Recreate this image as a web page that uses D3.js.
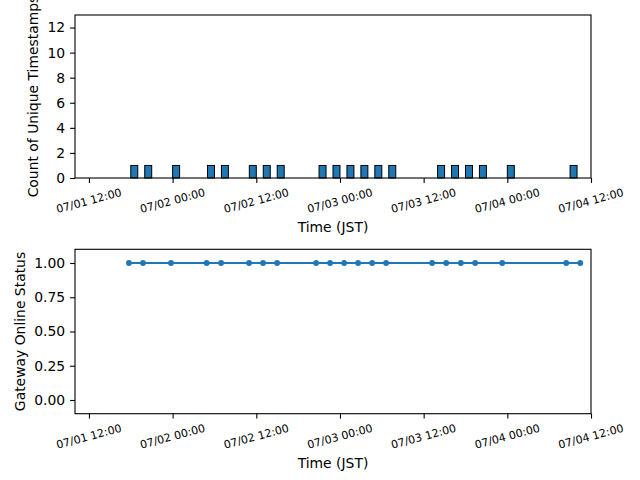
<!DOCTYPE html>
<html>
<head>
<meta charset="utf-8">
<script src="https://cdn.jsdelivr.net/npm/d3@7"></script>
<style>
  body { margin: 0; background: #fff; }
  text { font-family: "DejaVu Sans", sans-serif; fill: #000; }
</style>
</head>
<body>
<div id="chart"></div>
<script>
// hourly histogram of unique timestamps + online status line

const year = 2024;
const barHours = ["07-01 18:00", "07-01 20:00", "07-02 00:00", "07-02 05:00", "07-02 07:00",
  "07-02 11:00", "07-02 13:00", "07-02 15:00", "07-02 21:00", "07-02 23:00",
  "07-03 01:00", "07-03 03:00", "07-03 05:00", "07-03 07:00", "07-03 14:00",
  "07-03 16:00", "07-03 18:00", "07-03 20:00", "07-04 00:00", "07-04 09:00"];
const barCounts = [1, 1, 1, 1, 1, 1, 1, 1, 1, 1, 1, 1, 1, 1, 1, 1, 1, 1, 1, 1];

const statusTimes = ["07-01 17:44", "07-01 19:45", "07-01 23:46", "07-02 04:53", "07-02 06:57",
  "07-02 10:58", "07-02 12:58", "07-02 14:59", "07-02 20:35", "07-02 22:35",
  "07-03 00:36", "07-03 02:36", "07-03 04:37", "07-03 06:37", "07-03 13:13",
  "07-03 15:14", "07-03 17:20", "07-03 19:23", "07-03 23:16", "07-04 08:27",
  "07-04 10:28"];
const statusValues = [1, 1, 1, 1, 1, 1, 1, 1, 1, 1, 1, 1, 1, 1, 1, 1, 1, 1, 1, 1, 1];

const countTicks = [0, 2, 4, 6, 8, 10, 12];
const statusTicks = [0, 0.25, 0.5, 0.75, 1];

const parse = s => d3.utcParse("%Y-%m-%d %H:%M")(year + "-" + s);
const xStart = parse("07-01 10:00");
const xEnd = parse("07-04 12:00");
const binStart = parse("07-01 11:00");
const binEnd = parse("07-04 11:00");

const blue = "#1f77b4";
const W = 640, H = 480;
const left = 75, right = 591;

const svg = d3.select("#chart").append("svg")
  .attr("width", W)
  .attr("height", H);

const x = d3.scaleUtc().domain([xStart, xEnd]).range([left, right]);
const xTicks = d3.utcHour.every(12).range(parse("07-01 12:00"), d3.utcMinute.offset(xEnd, 1));
const fmt = d3.utcFormat("%m/%d %H:%M");

function drawXAxis(g, bottom) {
  const ax = g.append("g")
    .attr("transform", `translate(0, ${bottom})`)
    .call(d3.axisBottom(x).tickValues(xTicks).tickSize(4.9).tickFormat(""));
  ax.select(".domain").remove();
  ax.selectAll(".tick line").attr("stroke", "#000").attr("stroke-width", 1.1);
  g.selectAll(null)
    .data(xTicks)
    .enter()
    .append("text")
    .attr("transform", d => `translate(${x(d)}, ${bottom + 23}) rotate(-15)`)
    .attr("text-anchor", "middle")
    .attr("dominant-baseline", "central")
    .style("font-size", "11px")
    .text(d => fmt(d));
  g.append("text")
    .attr("x", (left + right) / 2)
    .attr("y", bottom + 54)
    .attr("text-anchor", "middle")
    .style("font-size", "13.9px")
    .text("Time (JST)");
}

function drawYAxis(g, y, ticks, f) {
  const ax = g.append("g")
    .attr("transform", `translate(${left}, 0)`)
    .call(d3.axisLeft(y).tickValues(ticks).tickSize(4.9).tickPadding(4.9).tickFormat(f));
  ax.select(".domain").remove();
  ax.selectAll(".tick line").attr("stroke", "#000").attr("stroke-width", 1.1);
  ax.selectAll(".tick text").style("font-size", "13.9px").attr("fill", "#000")
    .style("font-family", "DejaVu Sans");
}

function frame(g, top, bottom) {
  g.append("rect")
    .attr("x", left).attr("y", top)
    .attr("width", right - left).attr("height", bottom - top)
    .attr("fill", "none").attr("stroke", "#000").attr("stroke-width", 1.1);
}

// ---- top: histogram ----
const top1 = 15, bot1 = 178;
const y1 = d3.scaleLinear().domain([0, 13]).range([bot1, top1]);
const countMap = new Map(barHours.map((h, i) => [+parse(h), barCounts[i]]));
const bins = d3.utcHour.range(binStart, binEnd).map(t => ({ t, v: countMap.get(+t) || 0 }));

const g1 = svg.append("g");
g1.selectAll(".bar")
  .data(bins)
  .enter()
  .append("rect")
  .attr("class", "bar")
  .attr("x", d => x(d.t))
  .attr("y", d => y1(d.v))
  .attr("width", d => x(d3.utcHour.offset(d.t, 1)) - x(d.t))
  .attr("height", d => bot1 - y1(d.v))
  .attr("fill", blue)
  .attr("stroke", "#000")
  .attr("stroke-width", 1);
frame(g1, top1, bot1);
drawXAxis(g1, bot1);
drawYAxis(g1, y1, countTicks, d3.format("d"));
g1.append("text")
  .attr("transform", `translate(38, ${(top1 + bot1) / 2}) rotate(-90)`)
  .attr("text-anchor", "middle")
  .style("font-size", "13.9px")
  .text("Count of Unique Timestamps");

// ---- bottom: status line ----
const top2 = 249.3, bot2 = 413.7;
const y2 = d3.scaleLinear().domain([-0.1, 1.1]).range([bot2, top2]);
const pts = statusTimes.map((s, i) => ({ t: parse(s), v: statusValues[i] }));

const g2 = svg.append("g");
g2.append("path")
  .datum(pts)
  .attr("fill", "none")
  .attr("stroke", blue)
  .attr("stroke-width", 2.1)
  .attr("d", d3.line().x(d => x(d.t)).y(d => y2(d.v)));
g2.selectAll(".dot")
  .data(pts)
  .enter()
  .append("circle")
  .attr("class", "dot")
  .attr("cx", d => x(d.t))
  .attr("cy", d => y2(d.v))
  .attr("r", 2.9)
  .attr("fill", blue);
frame(g2, top2, bot2);
drawXAxis(g2, bot2);
drawYAxis(g2, y2, statusTicks, d3.format(".2f"));
g2.append("text")
  .attr("transform", `translate(25, ${(top2 + bot2) / 2}) rotate(-90)`)
  .attr("text-anchor", "middle")
  .style("font-size", "13.9px")
  .text("Gateway Online Status");
</script>
</body>
</html>
